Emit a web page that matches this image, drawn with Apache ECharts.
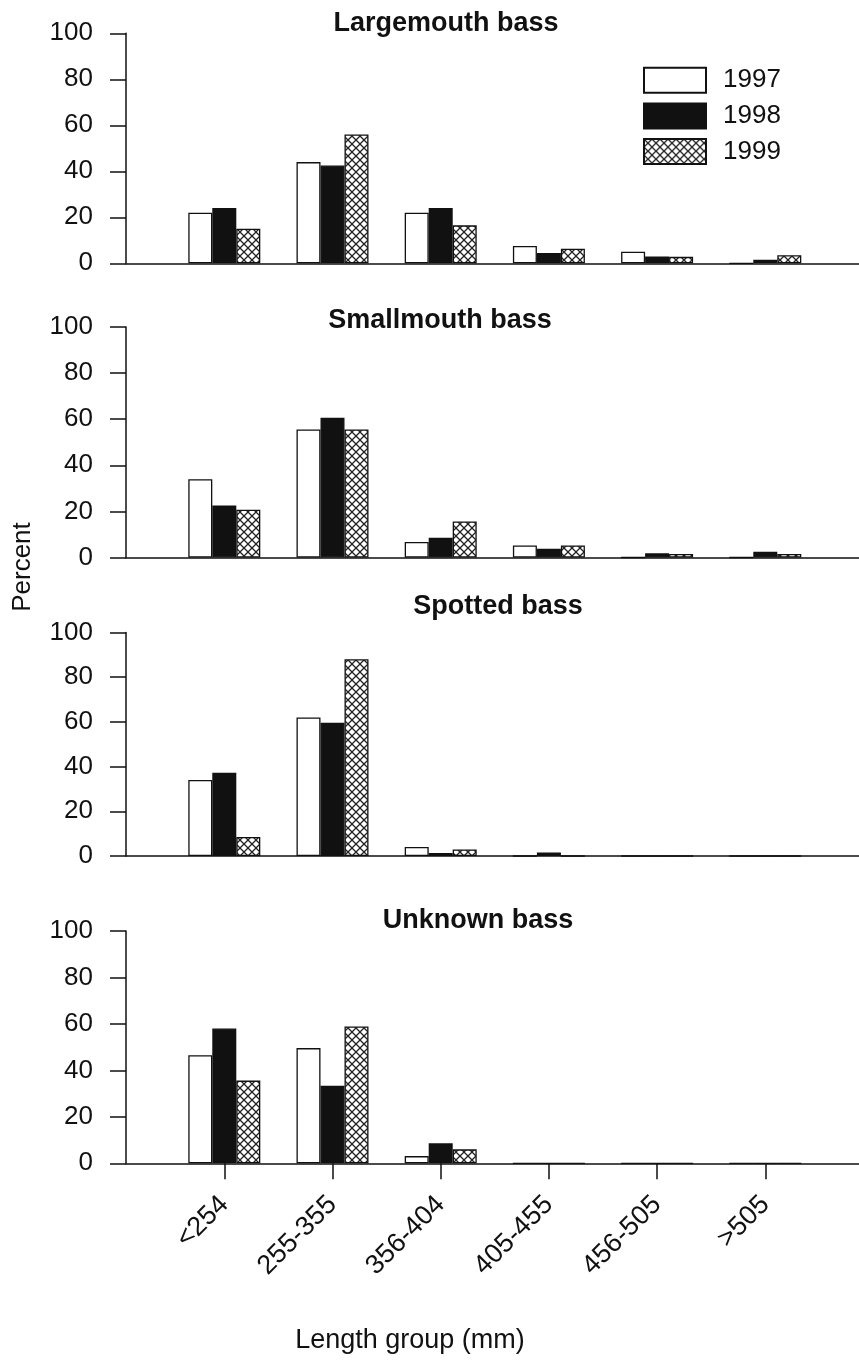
<!DOCTYPE html>
<html><head><meta charset="utf-8">
<script src="https://cdn.jsdelivr.net/npm/echarts@6/dist/echarts.min.js"></script>
<style>html,body{margin:0;padding:0;background:#fff}#c{width:859px;height:1361px}</style>
</head><body><div id="c"></div>
<script>
// ---- data ----
const categories = ['<254', '255-355', '356-404', '405-455', '456-505', '>505'];
const years = ['1997', '1998', '1999'];
const panelTitles = ['Largemouth bass', 'Smallmouth bass', 'Spotted bass', 'Unknown bass'];
const yTickMin = 0, yTickMax = 100, yTickStep = 20;

const largemouth1997 = [22, 44, 22, 7.5, 5, 0];
const largemouth1998 = [24, 42.5, 24, 4.5, 3, 1.5];
const largemouth1999 = [15, 56, 16.5, 6.3, 2.8, 3.5];

const smallmouth1997 = [34, 55.5, 6.7, 5.2, 0, 0];
const smallmouth1998 = [22.6, 60.6, 8.6, 3.8, 1.8, 2.5];
const smallmouth1999 = [20.7, 55.5, 15.6, 5.2, 1.5, 1.5];

const spotted1997 = [34, 62, 4, 0, 0, 0];
const spotted1998 = [37.3, 59.6, 1.3, 1.6, 0, 0];
const spotted1999 = [8.5, 88, 2.9, 0, 0, 0];

const unknown1997 = [46.5, 49.6, 3.1, 0, 0, 0];
const unknown1998 = [58, 33.4, 8.6, 0, 0, 0];
const unknown1999 = [35.6, 58.9, 6, 0, 0, 0];

const panels = [
  [largemouth1997, largemouth1998, largemouth1999],
  [smallmouth1997, smallmouth1998, smallmouth1999],
  [spotted1997, spotted1998, spotted1999],
  [unknown1997, unknown1998, unknown1999]
];

// ---- layout ----
const FONT = '"Liberation Sans", Arial, Helvetica, sans-serif';
const gridBoxes = [
  { top: 33.3, height: 230 },
  { top: 327, height: 230.5 },
  { top: 632.5, height: 223.5 },
  { top: 931, height: 232.3 }
];
const GRID_LEFT = 126, GRID_WIDTH = 733;
const FIRST_CENTER = 224.3, BAND = 108.2;
const X_MIN = -(FIRST_CENTER - GRID_LEFT) / BAND;
const X_MAX = (GRID_LEFT + GRID_WIDTH - FIRST_CENTER) / BAND;

// crosshatch pattern
const pc = document.createElement('canvas');
pc.width = 8; pc.height = 8;
const g = pc.getContext('2d');
g.fillStyle = '#fff'; g.fillRect(0, 0, 8, 8);
g.strokeStyle = '#222'; g.lineWidth = 1.3;
g.beginPath();
g.moveTo(-1, -1); g.lineTo(9, 9);
g.moveTo(9, -1); g.lineTo(-1, 9);
g.stroke();

const yearStyles = [
  { color: '#ffffff', borderColor: '#111', borderWidth: 1.3 },
  { color: '#111111', borderColor: '#111', borderWidth: 1.3 },
  { color: { image: pc, repeat: 'repeat' }, borderColor: '#111', borderWidth: 1.3 }
];

const grid = gridBoxes.map(b => ({ left: GRID_LEFT, width: GRID_WIDTH, top: b.top, height: b.height }));
const tickIdx = categories.map((c, i) => i);

const xAxis = gridBoxes.map((b, p) => {
  const isBottom = p === gridBoxes.length - 1;
  return {
    type: 'value', gridIndex: p, min: X_MIN, max: X_MAX,
    axisLine: { show: true, onZero: false, lineStyle: { color: '#111', width: 1.5 } },
    splitLine: { show: false },
    axisTick: isBottom ? { show: true, customValues: tickIdx, length: 16, lineStyle: { color: '#111', width: 1.5 } } : { show: false },
    axisLabel: isBottom ? {
      show: true, customValues: tickIdx, rotate: 45, margin: 37,
      fontSize: 27, color: '#111', fontFamily: FONT,
      formatter: v => categories[Math.round(v)]
    } : { show: false }
  };
});

const yAxis = gridBoxes.map((b, p) => ({
  type: 'value', gridIndex: p, min: yTickMin, max: yTickMax, interval: yTickStep,
  axisLine: { show: true, onZero: false, lineStyle: { color: '#111', width: 1.5 } },
  axisTick: { show: true, length: 16, lineStyle: { color: '#111', width: 1.5 } },
  splitLine: { show: false },
  axisLabel: { fontSize: 26, color: '#111', fontFamily: FONT, margin: 33 }
}));

const series = [];
panels.forEach((vals, p) => {
  vals.forEach((arr, y) => {
    series.push({
      type: 'bar', name: years[y], xAxisIndex: p, yAxisIndex: p,
      data: arr.map((v, i) => [i, v]),
      barWidth: 24, barGap: '0%',
      itemStyle: yearStyles[y],
      emphasis: { disabled: true }
    });
  });
});

const titlePos = [[446, 24], [440, 321], [498, 607], [478, 921]];
const graphic = panelTitles.map((t, i) => ({
  type: 'text', x: titlePos[i][0], y: titlePos[i][1],
  style: { text: t, font: 'bold 27px ' + FONT, fill: '#111', align: 'center', verticalAlign: 'middle' }
}));
graphic.push({
  type: 'text', x: 23, y: 567, rotation: Math.PI / 2,
  style: { text: 'Percent', font: '26px ' + FONT, fill: '#111', align: 'center', verticalAlign: 'middle' }
});
graphic.push({
  type: 'text', x: 410, y: 1341,
  style: { text: 'Length group (mm)', font: '27px ' + FONT, fill: '#111', align: 'center', verticalAlign: 'middle' }
});

const chart = echarts.init(document.getElementById('c'), null, { renderer: 'canvas' });
chart.setOption({
  animation: false,
  backgroundColor: '#fff',
  grid, xAxis, yAxis, series, graphic,
  legend: {
    data: years, orient: 'vertical', left: 643, top: 66.7, padding: 0,
    itemWidth: 62, itemHeight: 25, itemGap: 8.7, icon: 'rect',
    selectedMode: false,
    textStyle: { fontSize: 26, color: '#111', fontFamily: FONT, lineHeight: 25, padding: [0, 0, 0, 12] }
  }
});
</script></body></html>
